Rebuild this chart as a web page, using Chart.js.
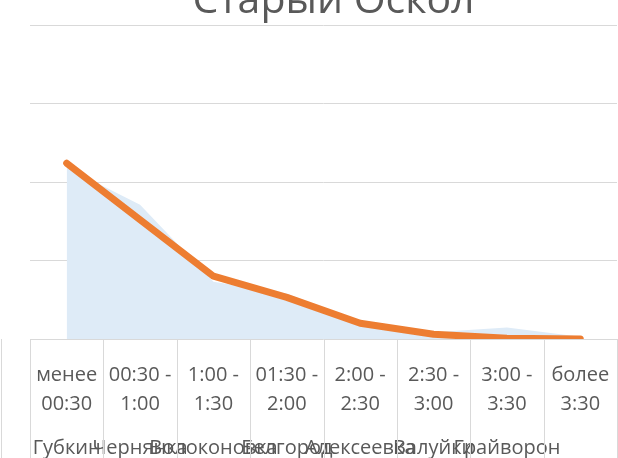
<!DOCTYPE html>
<html>
<head>
<meta charset="utf-8">
<script src="https://cdn.jsdelivr.net/npm/chart.js@4.4.0/dist/chart.umd.min.js"></script>
<style>
    html, body { margin: 0; padding: 0; background: #fff; }
    #wrap { width: 618px; height: 458px; position: relative; }
</style>
</head>
<body>
<div id="wrap"><canvas id="chart"></canvas></div>
<script>
const chartTitle = 'Старый Оскол';
const timeLabels = [
    ['менее', '00:30'], ['00:30 -', '1:00'], ['1:00 -', '1:30'], ['01:30 -', '2:00'],
    ['2:00 -', '2:30'], ['2:30 -', '3:00'], ['3:00 -', '3:30'], ['более', '3:30']
];
const cities = ['Губкин', 'Чернянка', 'Волоконовка', 'Белгород', 'Алексеевка', 'Валуйки', 'Грайворон', ''];
const areaValues = [21.8, 17.1, 7.3, 5.8, 2.2, 0.85, 1.45, 0.3];
const lineValues = [22.4, 15.2, 8.0, 5.3, 2.0, 0.6, 0.1, 0.0];
const yTicks = [0, 10, 20, 30, 40];

const textColor = '#595959';
const gridColor = '#d9d9d9';

// vertical separators of the category table under the plot
const dividers = {
    id: 'dividers',
    afterDraw(chart) {
        const x = chart.scales.x;
        const area = chart.chartArea;
        const ctx = chart.ctx;
        const half = (x.getPixelForValue(1) - x.getPixelForValue(0)) / 2;
        ctx.save();
        ctx.strokeStyle = gridColor;
        ctx.lineWidth = 1;
        ctx.beginPath();
        for (let i = 0; i <= timeLabels.length; i++) {
            const px = Math.round(x.getPixelForValue(i) - half) + 0.5;
            ctx.moveTo(px, area.bottom);
            ctx.lineTo(px, chart.height);
        }
        ctx.moveTo(1.5, area.bottom);
        ctx.lineTo(1.5, chart.height);
        ctx.stroke();
        ctx.restore();
    }
};

// title sits partly above the visible frame
const topTitle = {
    id: 'topTitle',
    afterDraw(chart) {
        const area = chart.chartArea;
        const ctx = chart.ctx;
        ctx.save();
        ctx.font = '41px "Open Sans"';
        ctx.fillStyle = textColor;
        ctx.textAlign = 'center';
        ctx.textBaseline = 'alphabetic';
        ctx.fillText(chartTitle, (area.left + area.right) / 2 + 10, 13);
        ctx.restore();
    }
};

// fixed band heights for the two label rows
function fitBand(height) {
    return scale => {
        scale.height = height;
        scale.paddingLeft = 0;
        scale.paddingRight = 0;
    };
}

new Chart(document.getElementById('chart'), {
    type: 'line',
    data: {
        labels: timeLabels,
        datasets: [
            {
                data: areaValues,
                fill: 'origin',
                backgroundColor: '#deebf7',
                borderWidth: 0,
                pointRadius: 0,
                order: 2
            },
            {
                data: lineValues,
                fill: false,
                borderColor: '#ed7d31',
                borderWidth: 7,
                borderCapStyle: 'round',
                borderJoinStyle: 'round',
                pointRadius: 0,
                order: 1
            }
        ]
    },
    options: {
        responsive: true,
        maintainAspectRatio: false,
        animation: false,
        layout: { padding: { top: 25, left: 30, right: 1, bottom: 0 } },
        plugins: {
            legend: { display: false },
            tooltip: { enabled: false },
            title: { display: false }
        },
        scales: {
            y: {
                min: yTicks[0],
                max: yTicks[yTicks.length - 1],
                ticks: { display: false, stepSize: yTicks[1] - yTicks[0] },
                grid: { color: gridColor, drawTicks: false },
                border: { display: false }
            },
            x: {
                offset: true,
                weight: 0,
                grid: { display: false },
                border: { display: false },
                afterFit: fitBand(78),
                ticks: {
                    color: textColor,
                    font: { family: 'Open Sans', size: 20, lineHeight: 1.45 },
                    padding: 14,
                    maxRotation: 0,
                    autoSkip: false
                }
            },
            x2: {
                type: 'category',
                labels: cities,
                position: 'bottom',
                offset: true,
                weight: 1,
                grid: { display: false },
                border: { display: false },
                afterFit: fitBand(41),
                ticks: {
                    color: textColor,
                    font: { family: 'Open Sans', size: 20, lineHeight: 1.2 },
                    padding: 11,
                    maxRotation: 0,
                    autoSkip: false
                }
            }
        }
    },
    plugins: [dividers, topTitle]
});
</script>
</body>
</html>
